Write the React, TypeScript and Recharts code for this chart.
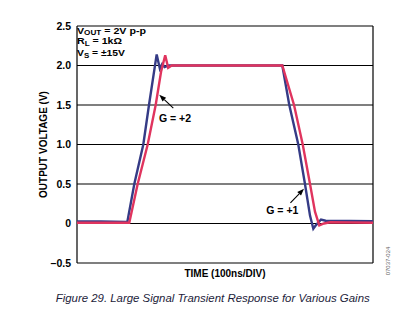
import { LineChart, Line, XAxis, YAxis, CartesianGrid, ReferenceLine, ReferenceDot } from "recharts";

// time in ns (100ns/div, 5 divisions), output in volts
const gain2Time = [0, 40, 85, 96.8, 112, 121.6, 134.6, 140, 144, 148, 155, 250, 346.8, 358.6, 373.8, 385.1, 393.6, 399.2, 403.7, 412.2, 420, 500];
const gain2Volts = [0.025, 0.025, 0.02, 0.5, 1.0, 1.5, 2.14, 1.96, 2.02, 1.98, 2.0, 2.0, 2.0, 1.5, 1.0, 0.5, 0.1, -0.067, -0.02, 0.05, 0.035, 0.03];

const gain1Time = [0, 88.3, 102.5, 119.4, 132.9, 142, 149, 154, 160, 250, 346.8, 366.6, 381.3, 393.6, 402, 409.3, 417.2, 427.4, 500];
const gain1Volts = [0.01, 0.01, 0.5, 1.0, 1.5, 1.92, 2.13, 1.97, 2.0, 2.0, 2.0, 1.5, 1.0, 0.5, 0.15, -0.025, 0.0, 0.015, 0.01];

const timeTicks = [0, 100, 200, 300, 400, 500];
const voltTicks = [-0.5, 0, 0.5, 1.0, 1.5, 2.0, 2.5];

const blueData = gain2Time.map((t, i) => ({ t, v: gain2Volts[i] }));
const redData = gain1Time.map((t, i) => ({ t, v: gain1Volts[i] }));

const FONT = "'Liberation Sans', Arial, sans-serif";

const fmtVolt = (v: number) => (v === 0 ? "0" : v < 0 ? "\u2013" + Math.abs(v).toFixed(1) : v.toFixed(1));

const Arrow = (props: any) => {
  const { x1, y1, x2, y2 } = props;
  // tail (x1,y1) -> tip (x2,y2)
  const ang = Math.atan2(y2 - y1, x2 - x1);
  const len = 7;
  const w = 2.6;
  const bx = x2 - len * Math.cos(ang);
  const by = y2 - len * Math.sin(ang);
  const px = -Math.sin(ang) * w;
  const py = Math.cos(ang) * w;
  return (
    <g>
      <line x1={x1} y1={y1} x2={bx} y2={by} stroke="#000" strokeWidth={1.1} />
      <polygon points={`${x2},${y2} ${bx + px},${by + py} ${bx - px},${by - py}`} fill="#000" />
    </g>
  );
};

const textLabel = (txt: string) => (props: any) => {
  const { viewBox } = props;
  const cx = viewBox.x + (viewBox.width || 0) / 2;
  const cy = viewBox.y + (viewBox.height || 0) / 2;
  return (
    <text x={cx} y={cy} textAnchor="middle" fontFamily={FONT} fontWeight="bold" fontSize={10.5} fill="#000">
      {txt}
    </text>
  );
};

export default function App() {
  return (
    <div style={{ position: "absolute", left: 0, top: 0, width: 406, height: 329, background: "#fff" }}>
      <LineChart width={406} height={329} data={blueData} margin={{ top: 26, right: 33, bottom: 46, left: 0 }}>
        <CartesianGrid stroke="#000" strokeWidth={1.2} />
        <XAxis
          dataKey="t"
          type="number"
          domain={[0, 500]}
          ticks={timeTicks}
          tick={false}
          tickLine={false}
          axisLine={false}
          height={20}
          label={{
            content: (p: any) => (
              <text
                x={p.viewBox.x + p.viewBox.width / 2}
                y={p.viewBox.y + 14}
                textAnchor="middle"
                fontFamily={FONT}
                fontWeight="bold"
                fontSize={10}
                fill="#000"
              >
                TIME (100ns/DIV)
              </text>
            ),
          }}
        />
        <YAxis
          type="number"
          domain={[-0.5, 2.5]}
          ticks={voltTicks}
          tickFormatter={fmtVolt}
          width={77}
          axisLine={false}
          tickLine={false}
          tickSize={4}
          tick={{ fill: "#000", fontSize: 10.5, fontWeight: "bold", fontFamily: FONT }}
          label={{
            content: (p: any) => {
              const cx = p.viewBox.x + 43;
              const cy = p.viewBox.y + p.viewBox.height / 2;
              return (
                <text
                  x={cx}
                  y={cy}
                  transform={`rotate(-90 ${cx} ${cy})`}
                  textAnchor="middle"
                  dominantBaseline="central"
                  fontFamily={FONT}
                  fontWeight="bold"
                  fontSize={10}
                  fill="#000"
                >
                  OUTPUT VOLTAGE (V)
                </text>
              );
            },
          }}
        />
        <Line data={blueData} dataKey="v" type="linear" stroke="#353b86" strokeWidth={2.4} dot={false} isAnimationActive={false} />
        <Line data={redData} dataKey="v" type="linear" stroke="#e0345e" strokeWidth={2.4} dot={false} isAnimationActive={false} />
        <ReferenceLine segment={[{ x: 162.7, y: 1.46 }, { x: 139, y: 1.63 }]} shape={Arrow} ifOverflow="visible" />
        <ReferenceLine segment={[{ x: 360.5, y: 0.26 }, { x: 383.4, y: 0.44 }]} shape={Arrow} ifOverflow="visible" />
        <ReferenceDot x={165.5} y={1.29} r={0} fill="none" stroke="none" label={{ content: textLabel("G = +2") }} />
        <ReferenceDot x={346.8} y={0.125} r={0} fill="none" stroke="none" label={{ content: textLabel("G = +1") }} />
      </LineChart>
      <svg width={406} height={329} style={{ position: "absolute", left: 0, top: 0, pointerEvents: "none" }}>
        <rect x={78} y={27} width={70} height={10} fill="#fff" />
        <g fontFamily={FONT} fontWeight="bold" fontSize={8.5} fill="#000">
          <text x={77} y={33.5} textLength={69} lengthAdjust="spacingAndGlyphs">
            V<tspan fontSize={6.5} dy={1.8}>OUT</tspan>
            <tspan dy={-1.8}> = 2V p-p</tspan>
          </text>
          <text x={77} y={44.3} textLength={45} lengthAdjust="spacingAndGlyphs">
            R<tspan fontSize={6.5} dy={1.8}>L</tspan>
            <tspan dy={-1.8}> = 1kΩ</tspan>
          </text>
          <text x={77} y={56} textLength={48} lengthAdjust="spacingAndGlyphs">
            V<tspan fontSize={6.5} dy={1.8}>S</tspan>
            <tspan dy={-1.8}> = ±15V</tspan>
          </text>
        </g>
        <text
          x={388}
          y={261}
          transform="rotate(-90 388 261)"
          textAnchor="middle"
          dominantBaseline="central"
          fontFamily={FONT}
          fontSize={6}
          fill="#666"
        >
          07037-024
        </text>
        <text
          x={55.7}
          y={302}
          fontFamily={FONT}
          fontStyle="italic"
          fontSize={11.5}
          fill="#1c1c3a"
          textLength={314}
          lengthAdjust="spacingAndGlyphs"
        >
          Figure 29. Large Signal Transient Response for Various Gains
        </text>
      </svg>
    </div>
  );
}
